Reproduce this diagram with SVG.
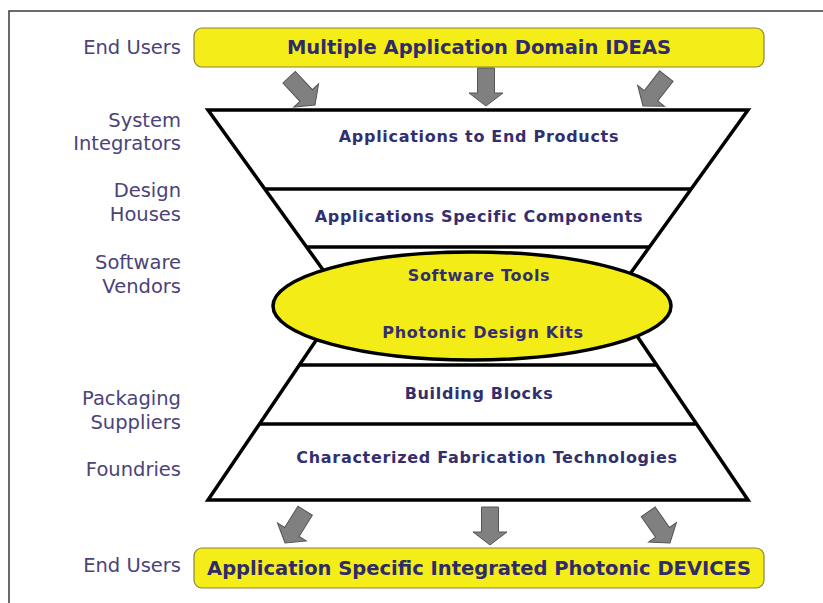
<svg xmlns="http://www.w3.org/2000/svg" width="823" height="603" viewBox="0 0 823 603">
  <defs>
    <style>
      .frame { fill: none; stroke: #3a3a3a; stroke-width: 1.5; }
      .bar { fill: #f4ed18; stroke: #8c8240; stroke-width: 1.2; }
      .barText { font-family: "DejaVu Sans", "Noto Sans", sans-serif; font-weight: bold; font-size: 19.5px; fill: #2f2b6b; text-anchor: middle; }
      .role { font-family: "DejaVu Sans", "Noto Sans", sans-serif; font-size: 19.5px; fill: #4b4379; text-anchor: end; }
      .tier { font-family: "DejaVu Sans", "Noto Sans", sans-serif; font-weight: bold; font-size: 16px; letter-spacing: 0.7px; fill: #332f6e; text-anchor: middle; }
      .funnel { fill: none; stroke: #000; stroke-width: 3.5; stroke-linejoin: miter; }
      .divider { stroke: #000; stroke-width: 3.5; }
      .core { fill: #f3ec16; stroke: #000; stroke-width: 3.5; }
      .flow { fill: #808080; stroke: #555; stroke-width: 1; stroke-linejoin: miter; }
    </style>
    <!-- block arrow pointing down, tip at origin -->
    <path id="blockArrow" d="M -8.5 -38 L 8.5 -38 L 8.5 -13 L 17 -13 L 0 0 L -17 -13 L -8.5 -13 Z"/>
  </defs>

  <rect width="823" height="603" fill="#ffffff"/>

  <!-- page frame -->
  <path class="frame" d="M 9 603 L 9 11 L 823 11"/>

  <!-- role labels -->
  <g id="roles">
    <text class="role" x="181" y="54">End Users</text>
    <text class="role" x="181" y="127">System</text>
    <text class="role" x="181" y="150">Integrators</text>
    <text class="role" x="181" y="197">Design</text>
    <text class="role" x="181" y="221">Houses</text>
    <text class="role" x="181" y="269">Software</text>
    <text class="role" x="181" y="293">Vendors</text>
    <text class="role" x="181" y="405">Packaging</text>
    <text class="role" x="181" y="429">Suppliers</text>
    <text class="role" x="181" y="476">Foundries</text>
    <text class="role" x="181" y="572">End Users</text>
  </g>

  <!-- top input bar -->
  <g id="ideas">
    <rect class="bar" x="194" y="28" width="570" height="39" rx="8" ry="8"/>
    <text class="barText" x="479" y="54">Multiple Application Domain IDEAS</text>
  </g>

  <!-- funnel outline and tiers -->
  <g id="funnel">
    <path class="funnel" d="M 208 110 L 748 110 L 612 299 L 748 500 L 208 500 L 344 299 Z"/>
    <line class="divider" x1="265" y1="189" x2="691" y2="189"/>
    <line class="divider" x1="306" y1="247" x2="650" y2="247"/>
    <line class="divider" x1="300" y1="365" x2="656" y2="365"/>
    <line class="divider" x1="260" y1="424" x2="696" y2="424"/>
  </g>

  <g id="endProducts">
    <text class="tier" x="479" y="142">Applications to End Products</text>
  </g>
  <g id="components">
    <text class="tier" x="479" y="222">Applications Specific Components</text>
  </g>
  <g id="toolsKits">
    <ellipse class="core" cx="472" cy="306" rx="199" ry="54"/>
    <text class="tier" x="479" y="281">Software Tools</text>
    <text class="tier" x="483" y="338">Photonic Design Kits</text>
  </g>
  <g id="buildingBlocks">
    <text class="tier" x="479" y="399">Building Blocks</text>
  </g>
  <g id="fabrication">
    <text class="tier" x="487" y="463">Characterized Fabrication Technologies</text>
  </g>

  <!-- bottom output bar -->
  <g id="devices">
    <rect class="bar" x="194" y="548" width="570" height="40" rx="8" ry="8"/>
    <text class="barText" x="479" y="575">Application Specific Integrated Photonic DEVICES</text>
  </g>

  <!-- flow arrows -->
  <g id="connectors">
    <use href="#blockArrow" class="flow" transform="translate(315 105) rotate(-43)"/>
    <use href="#blockArrow" class="flow" transform="translate(486 106)"/>
    <use href="#blockArrow" class="flow" transform="translate(643 106) rotate(38)"/>
    <use href="#blockArrow" class="flow" transform="translate(285 543) rotate(32)"/>
    <use href="#blockArrow" class="flow" transform="translate(490 545)"/>
    <use href="#blockArrow" class="flow" transform="translate(670 543) rotate(-35)"/>
  </g>
</svg>
